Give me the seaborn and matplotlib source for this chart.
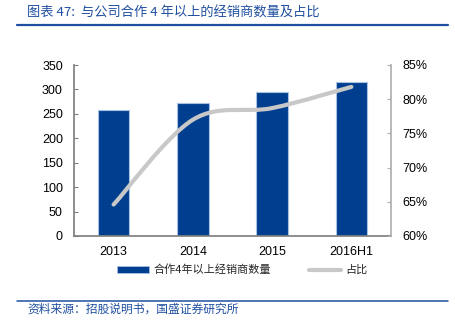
import matplotlib
matplotlib.use("Agg")
import matplotlib.pyplot as plt
import seaborn as sns
import pandas as pd
from matplotlib.path import Path
from matplotlib.patches import PathPatch, Patch
from matplotlib.lines import Line2D
from matplotlib.ticker import FuncFormatter, MultipleLocator

categories = ["2013", "2014", "2015", "2016H1"]
dealers = [257, 273, 295, 316]
share = [64.6, 77.0, 78.7, 81.8]
title = "图表 47:  与公司合作 4 年以上的经销商数量及占比"
source = "资料来源：招股说明书，国盛证券研究所"
bar_label = "合作4年以上经销商数量"
line_label = "占比"

sns.set_theme(style="white")
plt.rcParams["font.family"] = ["Liberation Sans", "Noto Sans CJK SC", "DejaVu Sans"]
cjk = ["Noto Sans CJK SC", "DejaVu Sans"]

BAR = "#003f8f"
LINE = "#c8c8c8"
DARK_BLUE = "#1f4fa0"

fig = plt.figure(figsize=(4.56, 3.32), dpi=100)
ax = fig.add_axes([74/456, 1-236/332, (391-74)/456, (236-65)/332])

df = pd.DataFrame({"cat": categories, "val": dealers})
sns.barplot(data=df, x="cat", y="val", color=BAR, width=0.4, ax=ax,
            edgecolor="#a9c0e3", linewidth=0.8, saturation=1)
ax.set_xlim(-0.5, len(categories)-0.5)
ax.set_ylim(0, 350)
ax.yaxis.set_major_locator(MultipleLocator(50))
ax.set_xlabel("")
ax.set_ylabel("")
ax.set_xticks(range(len(categories)))
ax.set_xticklabels(categories)
ax.tick_params(axis="x", length=0, labelsize=9, pad=7, colors="black")
ax.tick_params(axis="y", length=3, direction="in", labelsize=9, pad=8,
               colors="#808080", labelcolor="black", width=0.8)
ax.set_xticks([i + 0.5 for i in range(len(categories)-1)] + [-0.5, len(categories)-0.5], minor=True)
ax.tick_params(axis="x", which="minor", length=3, direction="in", colors="#808080", width=0.8)
ax.spines["top"].set_visible(False)
ax.spines["left"].set_color("#808080")
ax.spines["bottom"].set_color("#808080")
ax.spines["right"].set_visible(False)

ax2 = ax.twinx()
ax2.set_ylim(60, 85)
ax2.yaxis.set_major_locator(MultipleLocator(5))
ax2.yaxis.set_major_formatter(FuncFormatter(lambda v, p: f"{v:.0f}%"))
ax2.tick_params(axis="y", length=3, direction="in", labelsize=9, pad=8,
                colors="#b0b0b0", labelcolor="black", width=0.8)
for s in ["top", "left", "bottom"]:
    ax2.spines[s].set_visible(False)
ax2.spines["right"].set_color("#b0b0b0")
ax2.grid(False)
ax.grid(False)

# smoothed line (Catmull-Rom style bezier through the data points)
xs = list(range(len(share)))
pts = list(zip(xs, share))
verts = [pts[0]]
codes = [Path.MOVETO]
n = len(pts)
for i in range(n - 1):
    p0 = pts[i-1] if i > 0 else pts[i]
    p1 = pts[i]
    p2 = pts[i+1]
    p3 = pts[i+2] if i + 2 < n else pts[i+1]
    c1 = (p1[0] + (p2[0]-p0[0])/6, p1[1] + (p2[1]-p0[1])/6)
    c2 = (p2[0] - (p3[0]-p1[0])/6, p2[1] - (p3[1]-p1[1])/6)
    verts += [c1, c2, p2]
    codes += [Path.CURVE4]*3
ax2.add_patch(PathPatch(Path(verts, codes), facecolor="none", edgecolor=LINE,
                        lw=3, capstyle="round"))

# legend
handles = [Patch(facecolor=BAR, edgecolor="#a9c0e3", linewidth=0.6),
           Line2D([0], [0], color=LINE, lw=3)]
leg = fig.legend(handles, [bar_label, line_label], loc="center",
                 bbox_to_anchor=(242/456, 1-270/332), ncol=2, frameon=False,
                 prop={"family": cjk, "size": 8}, handlelength=2.9, handleheight=0.5,
                 columnspacing=3.4, handletextpad=0.4)

# title & source with rules
fig.text(27/456, 1-13/332, title, fontsize=9.5, color=DARK_BLUE, style="italic",
         family=cjk, va="center", ha="left")
fig.add_artist(Line2D([17/456, 448/456], [1-24.5/332]*2, color=DARK_BLUE, lw=1.6))
fig.add_artist(Line2D([17/456, 448/456], [1-301/332]*2, color=DARK_BLUE, lw=1.1))
fig.text(27/456, 1-309/332, source, fontsize=8.5, color=DARK_BLUE, style="italic",
         family=cjk, va="center", ha="left")

fig.savefig("out.png", dpi=100)
